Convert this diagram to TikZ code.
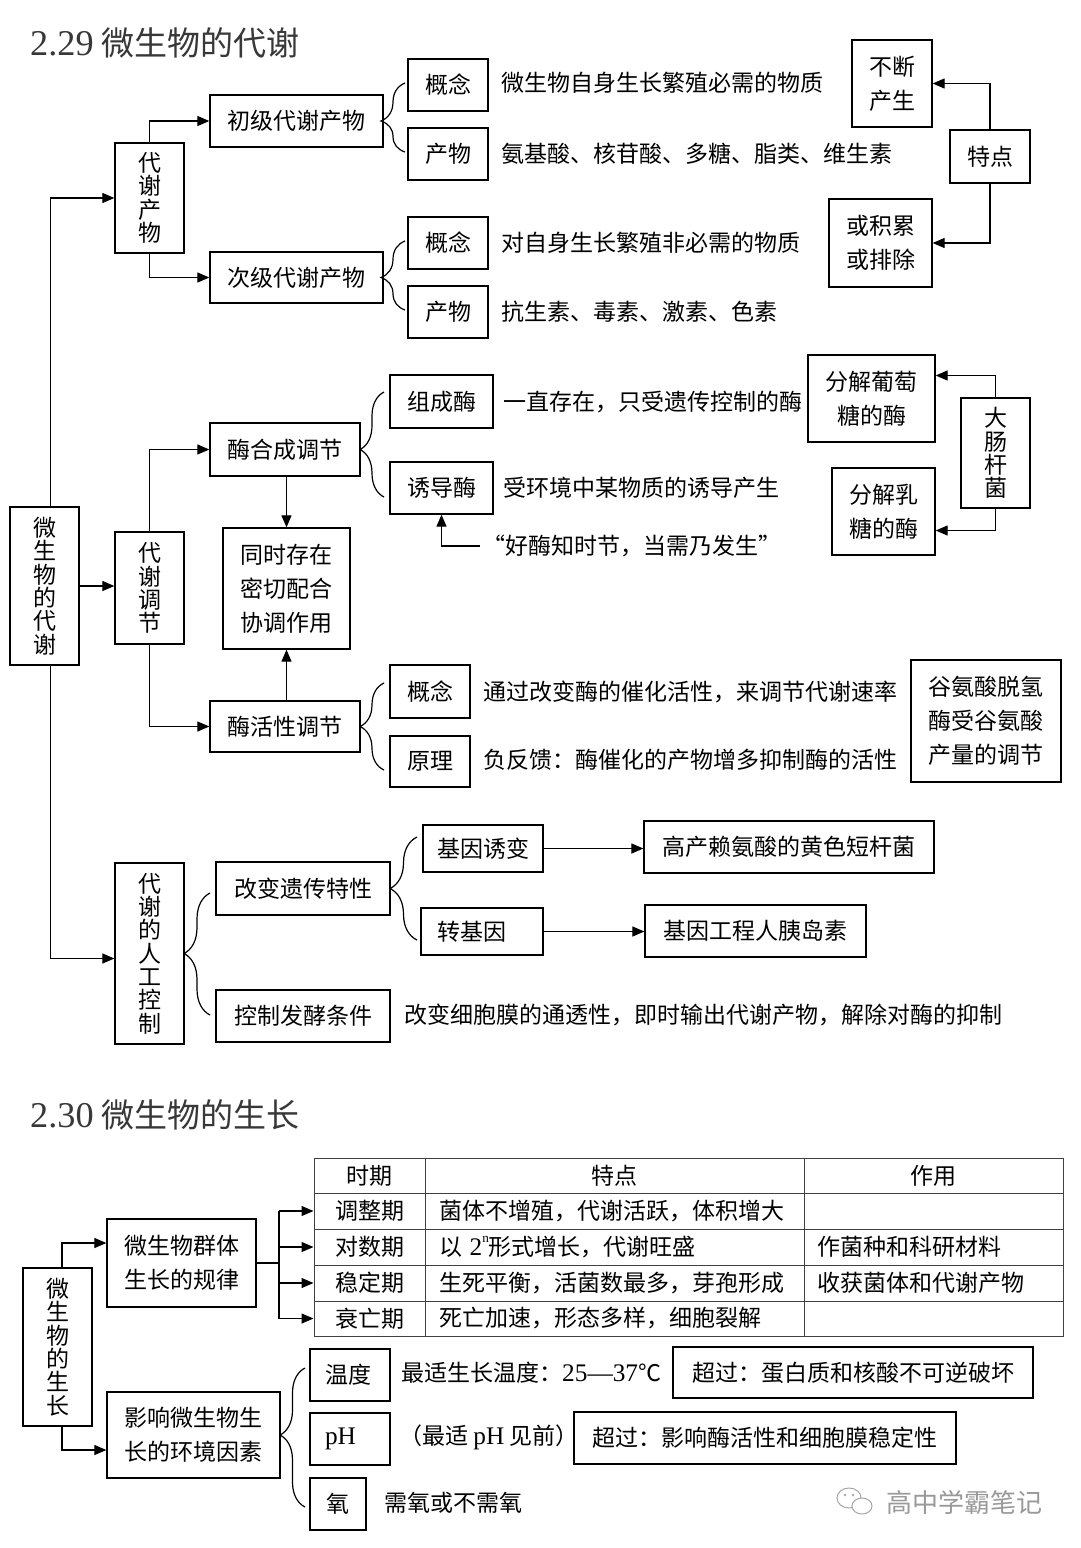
\documentclass[tikz,border=0pt]{standalone}
\usepackage{fontspec}
\setmainfont{Noto Sans CJK SC}
\newfontfamily\lat[Scale=1.1]{Liberation Serif}
\usetikzlibrary{arrows.meta,decorations.pathreplacing}

\tikzset{
  bx/.style={draw, line width=1.3pt, inner sep=0pt, align=center, font=\fontsize{23}{34}\selectfont},
  vbx/.style={font=\fontsize{23}{23.3}\selectfont},
  txt/.style={anchor=west, inner sep=0pt, font=\fontsize{23}{34}\selectfont},
  arr/.style={line width=1.2pt, -{Triangle[length=12pt,width=10pt]}},
  ln/.style={line width=1.2pt},
  brc/.style={line width=1.2pt, decorate, decoration={brace, amplitude=#1}},
  cell/.style={draw=black!75, line width=1pt},
  cellL/.style={cell, text width=351pt, inner xsep=14pt, align=left},
  cellR/.style={cell, text width=233pt, inner xsep=13pt, align=left},
  ttl/.style={anchor=west, inner sep=0pt, font=\fontsize{33}{36}\selectfont, text=black!78},
}

\newcommand\mybox[7][]{%
  \pgfmathsetmacro\bxw{#5-#3}\pgfmathsetmacro\bxh{#6-#4}%
  \pgfmathsetmacro\bxx{(#3+#5)/2}\pgfmathsetmacro\bxy{(#4+#6)/2}%
  \node[bx,minimum width=\bxw pt,minimum height=\bxh pt,#1] (#2) at (\bxx,\bxy) {#7};}

\newcommand\mybrace[5]{%
  \pgfmathsetmacro\asp{(#3-#4)/(#3-#2)}%
  \draw[brc=#5, decoration={aspect=\asp}] (#1,#3) -- (#1,#2);}

\begin{document}
\begin{tikzpicture}[x=1pt,y=-1pt]
\fill[white] (0,0) rectangle (1080,1548);
\useasboundingbox (0,0) rectangle (1080,1548);

% titles
\node[ttl] (title1) at (30,43) {{\lat 2.29} 微生物的代谢};
\node[ttl] (title2) at (30,1115) {{\lat 2.30} 微生物的生长};

% ---------- section 1 boxes
\mybox[vbx]{root}{10}{507}{79}{665}{微\\生\\物\\的\\代\\谢}
\mybox[vbx]{cp}{115}{143}{184}{253}{代\\谢\\产\\物}
\mybox{cj}{210}{95}{383}{147}{初级代谢产物}
\mybox{cjA}{408}{59}{488}{111}{概念}
\mybox{cjB}{408}{128}{488}{180}{产物}
\mybox{cc}{210}{252}{383}{303}{次级代谢产物}
\mybox{ccA}{408}{217}{488}{269}{概念}
\mybox{ccB}{408}{286}{488}{338}{产物}
\mybox{bdcs}{852}{40}{932}{127}{不断\\产生}
\mybox{td}{950}{130}{1030}{183}{特点}
\mybox{hjl}{829}{199}{932}{287}{或积累\\或排除}
\mybox[vbx]{tj}{115}{532}{184}{644}{代\\谢\\调\\节}
\mybox{mhc}{210}{423}{360}{476}{酶合成调节}
\mybox{tscz}{223}{528}{350}{649}{同时存在\\密切配合\\协调作用}
\mybox{zcm}{390}{375}{493}{428}{组成酶}
\mybox{ydm}{390}{462}{493}{514}{诱导酶}
\mybox{fjpt}{808}{355}{935}{442}{分解葡萄\\糖的酶}
\mybox[vbx]{dcgj}{961}{398}{1030}{508}{大\\肠\\杆\\菌}
\mybox{fjrt}{832}{468}{935}{555}{分解乳\\糖的酶}
\mybox{mhx}{210}{701}{360}{752}{酶活性调节}
\mybox{gnC}{390}{665}{470}{718}{概念}
\mybox{yl}{390}{736}{470}{787}{原理}
\mybox{gas}{911}{660}{1061}{782}{谷氨酸脱氢\\酶受谷氨酸\\产量的调节}
\mybox[vbx]{rgkz}{115}{863}{184}{1044}{代\\谢\\的\\人\\工\\控\\制}
\mybox{gbyc}{216}{862}{390}{915}{改变遗传特性}
\mybox{kzfj}{216}{990}{390}{1042}{控制发酵条件}
\mybox{jyyb}{423}{825}{543}{872}{基因诱变}
\mybox[text width=90pt,align=left,inner xsep=16pt]{zjy}{421}{908}{543}{955}{转基因}
\mybox{gclas}{644}{821}{934}{873}{高产赖氨酸的黄色短杆菌}
\mybox{jygc}{645}{905}{866}{957}{基因工程人胰岛素}

% ---------- section 1 texts
\node[txt] (t1) at (501,83) {微生物自身生长繁殖必需的物质};
\node[txt] (t2) at (501,154) {氨基酸、核苷酸、多糖、脂类、维生素};
\node[txt] (t3) at (501,243) {对自身生长繁殖非必需的物质};
\node[txt] (t4) at (501,312) {抗生素、毒素、激素、色素};
\node[txt] (t5) at (503,402) {一直存在，只受遗传控制的酶};
\node[txt] (t6) at (503,488) {受环境中某物质的诱导产生};
\node[txt] (hq) at (482,546) {“好酶知时节，当需乃发生”};
\node[txt] (t7) at (483,692) {通过改变酶的催化活性，来调节代谢速率};
\node[txt] (t8) at (483,760) {负反馈：酶催化的产物增多抑制酶的活性};
\node[txt] (t9) at (404,1015) {改变细胞膜的通透性，即时输出代谢产物，解除对酶的抑制};

% ---------- section 1 connectors
\draw[arr] ([xshift=6pt]root.north) |- (cp.west);
\draw[arr] (root.east) -- (root.east -| tj.west);
\draw[arr] ([xshift=6pt]root.south) |- ([yshift=-5pt]rgkz.west);
\draw[arr] (cp.north) |- (cj.west);
\draw[arr] (cp.south) |- (cc.west);
\draw[arr] (td.north) |- (bdcs.east);
\draw[arr] (td.south) |- (hjl.east);
\draw[arr] (tj.north) |- (mhc.west);
\draw[arr] (tj.south) |- (mhx.west);
\draw[arr] (tscz.north |- mhc.south) -- (tscz.north);
\draw[arr] (tscz.south |- mhx.north) -- (tscz.south);
\draw[arr] ([xshift=-2pt]hq.west) -| (ydm.south);
\draw[arr] (dcgj.north) |- ([yshift=23pt]fjpt.east);
\draw[arr] (dcgj.south) |- ([yshift=-19pt]fjrt.east);
\draw[arr] (jyyb.east) -- (jyyb.east -| gclas.west);
\draw[arr] (zjy.east) -- (zjy.east -| jygc.west);

% braces
\mybrace{405}{83}{152}{121}{24pt}
\mybrace{405}{241}{310}{277.5}{24pt}
\mybrace{384}{392}{497}{449.5}{24pt}
\mybrace{384}{683}{770}{726.5}{24pt}
\mybrace{210}{893}{1015}{953.5}{26pt}
\mybrace{417}{837}{940}{888.5}{27pt}
\mybrace{305}{1368}{1507}{1435}{25pt}

% ---------- section 2 boxes
\mybox[vbx]{rootB}{23}{1268}{92}{1426}{微\\生\\物\\的\\生\\长}
\mybox{qt}{107}{1219}{256}{1307}{微生物群体\\生长的规律}
\mybox{yx}{107}{1392}{280}{1478}{影响微生物生\\长的环境因素}
\mybox[text width=50pt,align=left,inner xsep=15pt]{wd}{310}{1349}{390}{1401}{温度}
\mybox[text width=50pt,align=left,inner xsep=15pt]{ph}{310}{1413}{390}{1465}{\lat pH}
\mybox{yang}{310}{1478}{366}{1530}{氧}
\mybox{cgA}{673}{1347}{1033}{1398}{超过：蛋白质和核酸不可逆破坏}
\mybox{cgB}{574}{1412}{956}{1464}{超过：影响酶活性和细胞膜稳定性}

% table
\mybox[cell]{h1}{314}{1158}{425}{1193}{时期}
\mybox[cell]{h2}{425}{1158}{804}{1193}{特点}
\mybox[cell]{h3}{804}{1158}{1063}{1193}{作用}
\mybox[cell]{a1}{314}{1193}{425}{1229}{调整期}
\mybox[cellL]{a2}{425}{1193}{804}{1229}{菌体不增殖，代谢活跃，体积增大}
\mybox[cellR]{a3}{804}{1193}{1063}{1229}{}
\mybox[cell]{b1}{314}{1229}{425}{1265}{对数期}
\mybox[cellL]{b2}{425}{1229}{804}{1265}{以 {\lat 2\raisebox{0.5em}{\fontsize{12}{12}\selectfont n}}形式增长，代谢旺盛}
\mybox[cellR]{b3}{804}{1229}{1063}{1265}{作菌种和科研材料}
\mybox[cell]{c1}{314}{1265}{425}{1301}{稳定期}
\mybox[cellL]{c2}{425}{1265}{804}{1301}{生死平衡，活菌数最多，芽孢形成}
\mybox[cellR]{c3}{804}{1265}{1063}{1301}{收获菌体和代谢产物}
\mybox[cell]{d1}{314}{1301}{425}{1336}{衰亡期}
\mybox[cellL]{d2}{425}{1301}{804}{1336}{死亡加速，形态多样，细胞裂解}
\mybox[cellR]{d3}{804}{1301}{1063}{1336}{}

% section 2 texts
\node[txt] (t10) at (401,1373) {最适生长温度：{\lat 25—37}℃};
\node[txt] (t11) at (399,1437) {（最适 {\lat pH} 见前）};
\node[txt] (t12) at (384,1503) {需氧或不需氧};

% section 2 connectors
\draw[arr] ([xshift=4.5pt]rootB.north) |- ([yshift=20pt]qt.west);
\draw[arr] ([xshift=4.5pt]rootB.south) |- ([yshift=-15pt]yx.west);
\coordinate (bus) at (279,1265);
\draw[ln] (qt.east) -- (qt.east -| bus);
\draw[ln] (a1.west -| bus) -- (d1.west -| bus);
\draw[arr] (a1.west -| bus) -- (a1.west);
\draw[arr] (b1.west -| bus) -- (b1.west);
\draw[arr] (c1.west -| bus) -- (c1.west);
\draw[arr] (d1.west -| bus) -- (d1.west);

% watermark
\draw[black!35, line width=1pt] (849,1498) ellipse [x radius=12pt, y radius=10pt];
\draw[black!35, line width=1pt, fill=white] (862,1506) ellipse [x radius=10pt, y radius=8pt];
\fill[black!35] (845,1495) circle [radius=1.3pt] (853,1495) circle [radius=1.3pt];
\node[anchor=west, inner sep=0pt, text=black!40, font=\fontsize{26}{30}\selectfont] (wm) at (886,1502) {高中学霸笔记};
\end{tikzpicture}
\end{document}
